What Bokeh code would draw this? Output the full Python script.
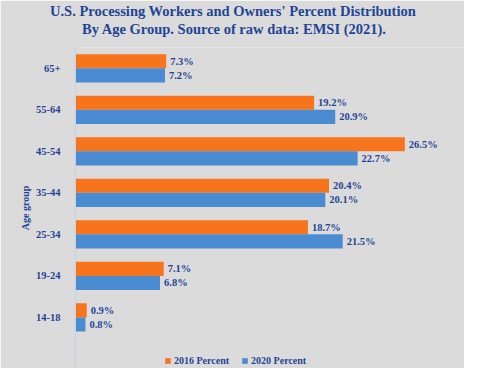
from bokeh.plotting import figure
from bokeh.models import ColumnDataSource, Range1d, Legend, LegendItem, FixedTicker, Title
from bokeh.core.properties import value
from bokeh.embed import file_html
from bokeh.resources import INLINE

age_groups = ["14-18", "19-24", "25-34", "35-44", "45-54", "55-64", "65+"]
pct_2016 = [0.9, 7.1, 18.7, 20.4, 26.5, 19.2, 7.3]
pct_2020 = [0.8, 6.8, 21.5, 20.1, 22.7, 20.9, 7.2]
series_names = ["2016 Percent", "2020 Percent"]
title_line1 = "U.S. Processing Workers and Owners' Percent Distribution"
title_line2 = "By Age Group. Source of raw data: EMSI (2021)."

ORANGE = "#f7731c"
BLUE = "#4a8bd2"
TXT = "#1f4596"
BG = "#dcdbdb"
SERIF = "Liberation Serif"

pos = list(range(len(age_groups)))
off = 0.17
h = 0.34
src = ColumnDataSource(dict(
    pos=pos,
    y16=[i + off for i in pos],
    y20=[i - off for i in pos],
    v16=pct_2016,
    v20=pct_2020,
    l16=[f"{v}%" for v in pct_2016],
    l20=[f"{v}%" for v in pct_2020],
))

p = figure(width=464, height=368, output_backend="svg", toolbar_location=None,
           y_range=Range1d(-1.23, 6.5), x_range=Range1d(0, 31.3),
           min_border_left=75, min_border_right=0, min_border_top=0, min_border_bottom=0,
           title=None)

p.background_fill_color = BG
p.border_fill_color = BG
p.outline_line_color = None

# spacer nearest the frame (drawn in background colour), then line 2, then line 1
p.add_layout(Title(text=".", text_color=BG, text_font_size="12.5px", standoff=0), "above")
p.add_layout(Title(text=title_line2, align="left", offset=6.5, standoff=0,
                   text_font=SERIF, text_font_size="14.5px", text_font_style="bold",
                   text_color=TXT), "above")
p.add_layout(Title(text=title_line1, align="left", offset=-25.5, standoff=0,
                   text_font=SERIF, text_font_size="14.5px", text_font_style="bold",
                   text_color=TXT), "above")

r16 = p.hbar(y="y16", right="v16", left=0, height=h,
             source=src, fill_color=ORANGE, line_color=None)
r20 = p.hbar(y="y20", right="v20", left=0, height=h,
             source=src, fill_color=BLUE, line_color=None)

p.text(x="v16", y="y16", text="l16", source=src,
       x_offset=4, text_baseline="middle", text_align="left",
       text_font=value(SERIF), text_font_style="bold", text_font_size="10.5px", text_color=TXT)
p.text(x="v20", y="y20", text="l20", source=src,
       x_offset=4, text_baseline="middle", text_align="left",
       text_font=value(SERIF), text_font_style="bold", text_font_size="10.5px", text_color=TXT)

p.xaxis.visible = False
p.xgrid.grid_line_color = None
p.ygrid.grid_line_color = None

ax = p.yaxis[0]
ax.ticker = FixedTicker(ticks=pos)
ax.major_label_overrides = {i: g for i, g in zip(pos, age_groups)}
ax.axis_label = "Age group"
ax.axis_label_text_font = SERIF
ax.axis_label_text_font_style = "bold"
ax.axis_label_text_font_size = "10px"
ax.axis_label_text_color = TXT
ax.axis_label_standoff = 2
ax.major_label_text_font = SERIF
ax.major_label_text_font_style = "bold"
ax.major_label_text_font_size = "10.5px"
ax.major_label_text_color = TXT
ax.major_label_standoff = 9
ax.axis_line_color = "#c4d2e4"
ax.major_tick_line_color = None
ax.minor_tick_line_color = None

legend = Legend(items=[LegendItem(label=series_names[0], renderers=[r16]),
                       LegendItem(label=series_names[1], renderers=[r20])],
                orientation="horizontal", location=(89, 2),
                background_fill_alpha=0, border_line_color=None,
                label_text_font=SERIF, label_text_font_style="bold",
                label_text_font_size="10px", label_text_color=TXT,
                glyph_width=7, glyph_height=7, label_standoff=3, spacing=12,
                padding=2, margin=0)
p.add_layout(legend, "center")

open("out.html", "w").write(file_html(p, INLINE))
